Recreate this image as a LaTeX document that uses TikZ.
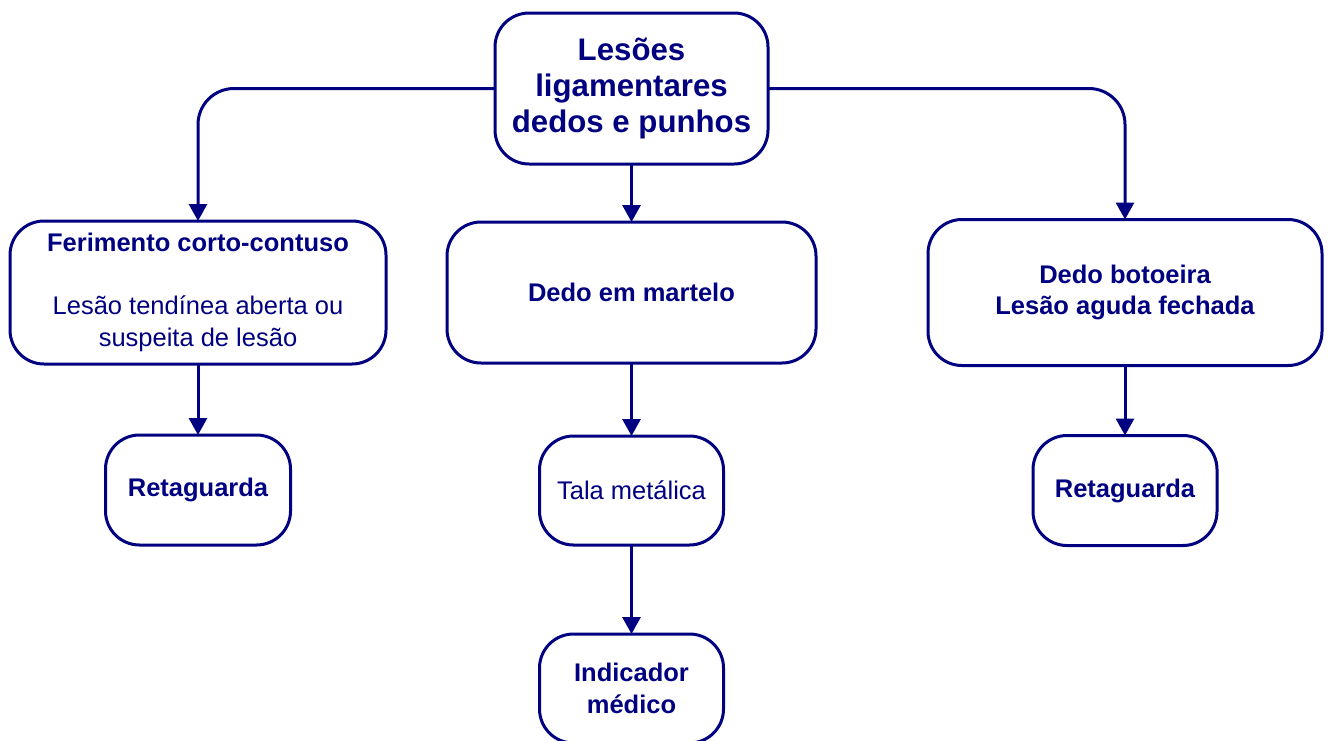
\documentclass[tikz,border=0pt]{standalone}
\usepackage{fontspec}
\setmainfont{Liberation Sans}
\usetikzlibrary{arrows.meta, positioning}
\definecolor{navy}{RGB}{0,0,128}

\begin{document}
\begin{tikzpicture}[x=1pt, y=-1pt, >={Triangle[length=17pt, width=18pt]},
    box/.style={draw=navy, text=navy, line width=3pt, rounded corners=34pt,
      inner sep=0pt, outer sep=0pt, align=center,
      font=\fontsize{25.5}{31.5}\selectfont\bfseries},
    link/.style={->, draw=navy, line width=3pt}]
      \useasboundingbox (0,0) rectangle (1330,740);

      \node[box, minimum width=273pt, minimum height=151pt,
        font=\fontsize{31.2}{36}\selectfont\bfseries] (root) at (631.5,88.5)
        {Lesões\\ligamentares\\dedos e punhos};
      \node[box, minimum width=369pt, minimum height=141pt, below=58pt of root] (martelo) {Dedo em martelo};
      \node[box, minimum width=376pt, minimum height=143pt, left=61pt of martelo] (ferimento)
        {Ferimento corto-contuso\\[31.5pt]\mdseries Lesão tendínea aberta ou\\\mdseries suspeita de lesão};
      \node[box, minimum width=394pt, minimum height=146pt, right=112pt of martelo] (botoeira)
        {Dedo botoeira\\Lesão aguda fechada};

      \node[box, minimum width=185pt, minimum height=110pt, below=71pt of ferimento] (retag1) {Retaguarda};
      \node[box, minimum width=184pt, minimum height=109pt, below=73pt of martelo,
        font=\fontsize{25.5}{31.5}\selectfont] (tala) {Tala metálica};
      \node[box, minimum width=184pt, minimum height=109pt, below=89pt of tala] (indicador) {Indicador\\médico};
      \node[box, minimum width=184pt, minimum height=110pt, below=70pt of botoeira] (retag2) {Retaguarda};

      \draw[link, rounded corners=36pt] (root.west) -| (ferimento.north);
      \draw[link, rounded corners=36pt] (root.east) -| (botoeira.north);
      \draw[link] (root) -- (martelo);
      \draw[link] (ferimento) -- (retag1);
      \draw[link] (martelo) -- (tala);
      \draw[link] (tala) -- (indicador);
      \draw[link] (botoeira) -- (retag2);
    \end{tikzpicture}
\end{document}
